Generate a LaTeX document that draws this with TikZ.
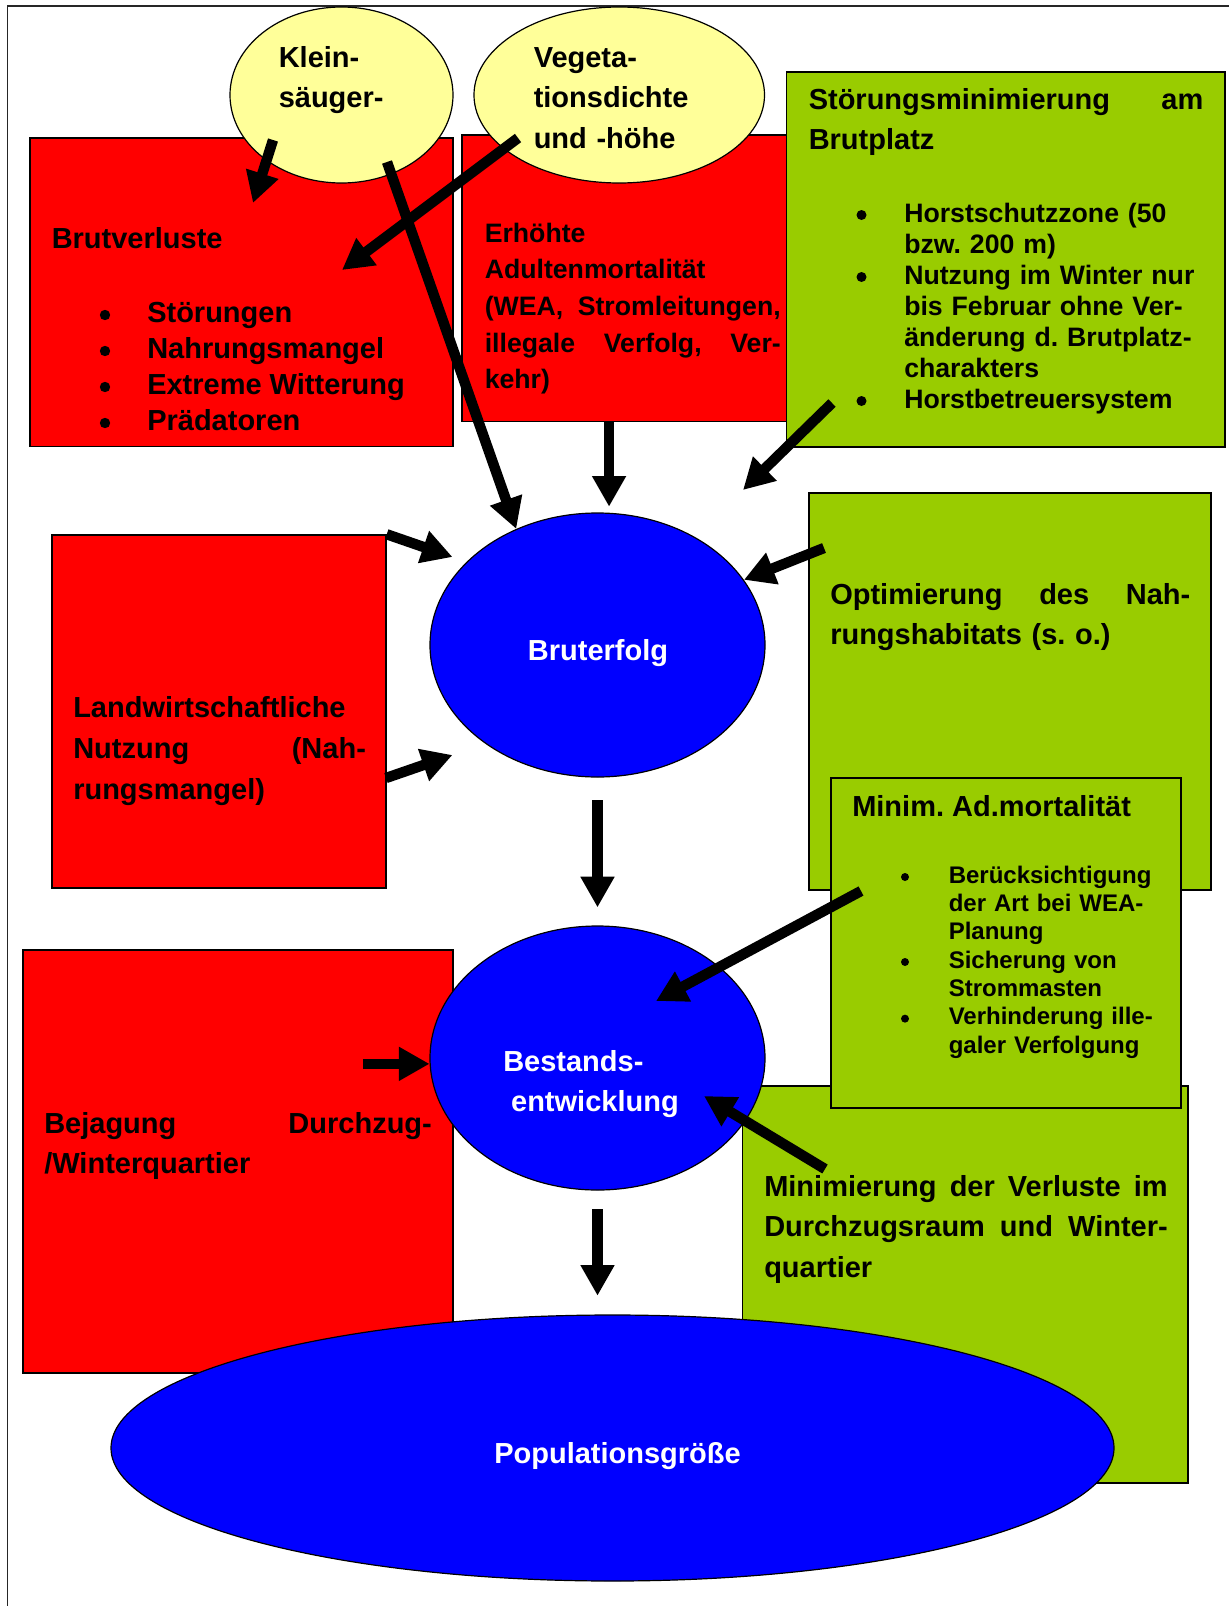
\documentclass[tikz,border=0pt]{standalone}
\usepackage{fontspec}
\setmainfont{Liberation Sans}
\usetikzlibrary{arrows.meta,shapes.geometric,fit}
\definecolor{brred}{HTML}{FF0000}
\definecolor{brgreen}{HTML}{99CC00}
\definecolor{bryellow}{HTML}{FFFF99}
\definecolor{brblue}{HTML}{0000FF}

\begin{document}
\begin{tikzpicture}[x=0.75pt,y=-0.75pt,
  redbox/.style={draw=black,line width=1.1pt,fill=brred,inner sep=0pt},
  greenbox/.style={draw=black,line width=1.1pt,fill=brgreen,inner sep=0pt},
  blob/.style={ellipse,draw=black,line width=0.9pt,inner sep=0pt},
  txt/.style={anchor=base west,inner sep=0pt,font=\bfseries\fontsize{21.75}{30.5}\selectfont},
  small/.style={font=\bfseries\fontsize{20}{27.5}\selectfont},
  arr/.style={line width=7.8pt,-{Triangle[length=23pt,width=24pt]}}]
  \useasboundingbox (0,0) rectangle (1229,1606);
  \fill[white] (0,0) rectangle (1229,1606);
  \draw[line width=1.2pt,black!85] (7.5,1606) -- (7.5,6) -- (1229,6);

  % Kaestchen
  \node[redbox,fit={(30,138) (453,446.5)}] (brutv) {};
  \node[redbox,fit={(462,135) (800,421.5)}] (erhoeht) {};
  \node[greenbox,fit={(786.5,72) (1225,447)}] (stoer) {};
  \node[redbox,fit={(52,535) (386,888)}] (landw) {};
  \node[greenbox,fit={(809,493) (1211,890)}] (optim) {};
  \node[greenbox,fit={(742.5,1086) (1188,1483)}] (verl) {};
  \node[greenbox,fit={(831,778) (1181,1108)}] (minim) {};
  \node[redbox,fit={(23,950) (453,1373)}] (bejag) {};

  % Ellipsen
  \node[blob,fill=bryellow,minimum width=167.25pt,minimum height=132pt] (klein) at (341.5,95) {};
  \node[blob,fill=bryellow,minimum width=217.9pt,minimum height=132pt] (veget) at (619.25,95) {};
  \node[blob,fill=brblue,minimum width=251.25pt,minimum height=198pt] (bruterf) at (597.5,645) {};
  \node[blob,fill=brblue,minimum width=251.25pt,minimum height=198pt] (bestand) at (597.5,1058) {};
  \node[blob,fill=brblue,minimum width=752.25pt,minimum height=199.5pt] (popul) at (612.5,1448) {};

  % Texte
  \node[txt,text width=120pt,align=left] (klein-t) at (278.5,67) {Klein-\\säuger-};
  \node[txt,text width=150pt,align=left] (veget-t) at (533.5,67) {Vegeta-\\tionsdichte\\und -höhe};
  \node[txt] (brutv-t) at (51.5,248) {Brutverluste};
  \foreach \entry [count=\i] in {Störungen,Nahrungsmangel,Extreme Witterung,Prädatoren} {
    \fill (105,{322+36*(\i-1)-7}) circle (3.9pt);
    \node[txt] (brutv-\i) at (147,{322+36*(\i-1)}) {\entry};
  }
  \node[txt,small,text width=222pt,align=left] (erhoeht-t) at (484.5,242)
    {Erhöhte\\Adultenmortalität\\(WEA,\hfill Stromleitungen,\\illegale\hfill Verfolg,\hfill Ver-\\kehr)};
  \node[txt,text width=295.9pt,align=left] (stoer-t) at (808.5,109) {Störungsminimierung\hfill am\\Brutplatz};
  \node[txt,font=\bfseries\fontsize{20}{23.25}\selectfont,text width=230pt,align=left] (stoer-l) at (904,222)
    {Horstschutzzone (50\\bzw.\ 200 m)\\Nutzung im Winter nur\\bis Februar ohne Ver-\\änderung d.\ Brutplatz-\\charakters\\Horstbetreuersystem};
  \foreach \z in {0,2,6}
    \fill (861.5,{222+31*\z-7}) circle (3.75pt);
  \node[txt,font=\bfseries\fontsize{21.75}{31}\selectfont,text width=219.5pt,align=left] (landw-t) at (73,717)
    {Landwirtschaftliche\\Nutzung\hfill (Nah-\\rungsmangel)};
  \node[txt,text width=270pt,align=left] (optim-t) at (830,604) {Optimierung\hfill des\hfill Nah-\\rungshabitats (s.\ o.)};
  \node[txt] (minim-t) at (852,816) {Minim.\ Ad.mortalität};
  \node[txt,font=\bfseries\fontsize{18}{21.25}\selectfont,text width=175pt,align=left] (minim-l) at (948.5,883)
    {Berücksichtigung\\der Art bei WEA-\\Planung\\Sicherung von\\Strommasten\\Verhinderung ille-\\galer Verfolgung};
  \foreach \z in {0,3,5}
    \fill (905,{883+28.33*\z-6}) circle (3pt);
  \node[txt,white,anchor=base] (bruterf-t) at (598,660) {Bruterfolg};
  \node[txt,white,text width=200pt,align=left] (bestand-t) at (503,1071) {Bestands-\\\hspace*{5.9pt}entwicklung};
  \node[txt,white] (popul-t) at (494,1463) {Populationsgröße};
  \node[txt,text width=290.7pt,align=left] (bejag-t) at (44,1133) {Bejagung\hfill Durchzug-\\/Winterquartier};
  \node[txt,text width=302.6pt,align=left] (verl-t) at (764,1196)
    {Minimierung\hfill der\hfill Verluste\hfill im\\Durchzugsraum\hfill und\hfill Winter-\\quartier};

  % Pfeile
  \coordinate (kl-out) at (273,140);
  \coordinate (kl-out2) at (387,162);
  \coordinate (ve-out) at (518,138);
  \coordinate (bv-in) at (253,203);
  \coordinate (bv-in2) at (342,270);
  \coordinate (st-out) at (832,403);
  \coordinate (st-in) at (743,490);
  \coordinate (lw-out) at (386,778);
  \coordinate (lw-in1) at (452.5,557);
  \coordinate (lw-in2) at (452.5,755);
  \coordinate (op-out) at (824,548);
  \coordinate (mi-out) at (861,891);
  \coordinate (mi-in) at (656,1001);
  \coordinate (vl-out) at (825,1169);
  \coordinate (vl-in) at (704,1096);

  \draw[arr] (kl-out) -- (bv-in);
  \draw[arr] (ve-out) -- (bv-in2);
  \draw[arr] (kl-out2) -- (bruterf.125);
  \draw[arr,shorten >=4.5pt] (erhoeht.south -| bruterf.85) -- (bruterf.85);
  \draw[arr] (st-out) -- (st-in);
  \draw[arr] (landw.north east) -- (lw-in1);
  \draw[arr] (lw-out) -- (lw-in2);
  \draw[arr] (op-out) -- (bruterf.24);
  \draw[arr,shorten <=17pt,shorten >=13.5pt] (bruterf.south) -- (bestand.north);
  \draw[arr] (mi-out) -- (mi-in);
  \draw[arr] ([xshift=-50pt]bestand.182) -- (bestand.182);
  \draw[arr] (vl-out) -- (vl-in);
  \draw[arr,shorten <=14pt,shorten >=14pt] (bestand.south) -- (bestand.south |- popul.north);
\end{tikzpicture}
\end{document}
